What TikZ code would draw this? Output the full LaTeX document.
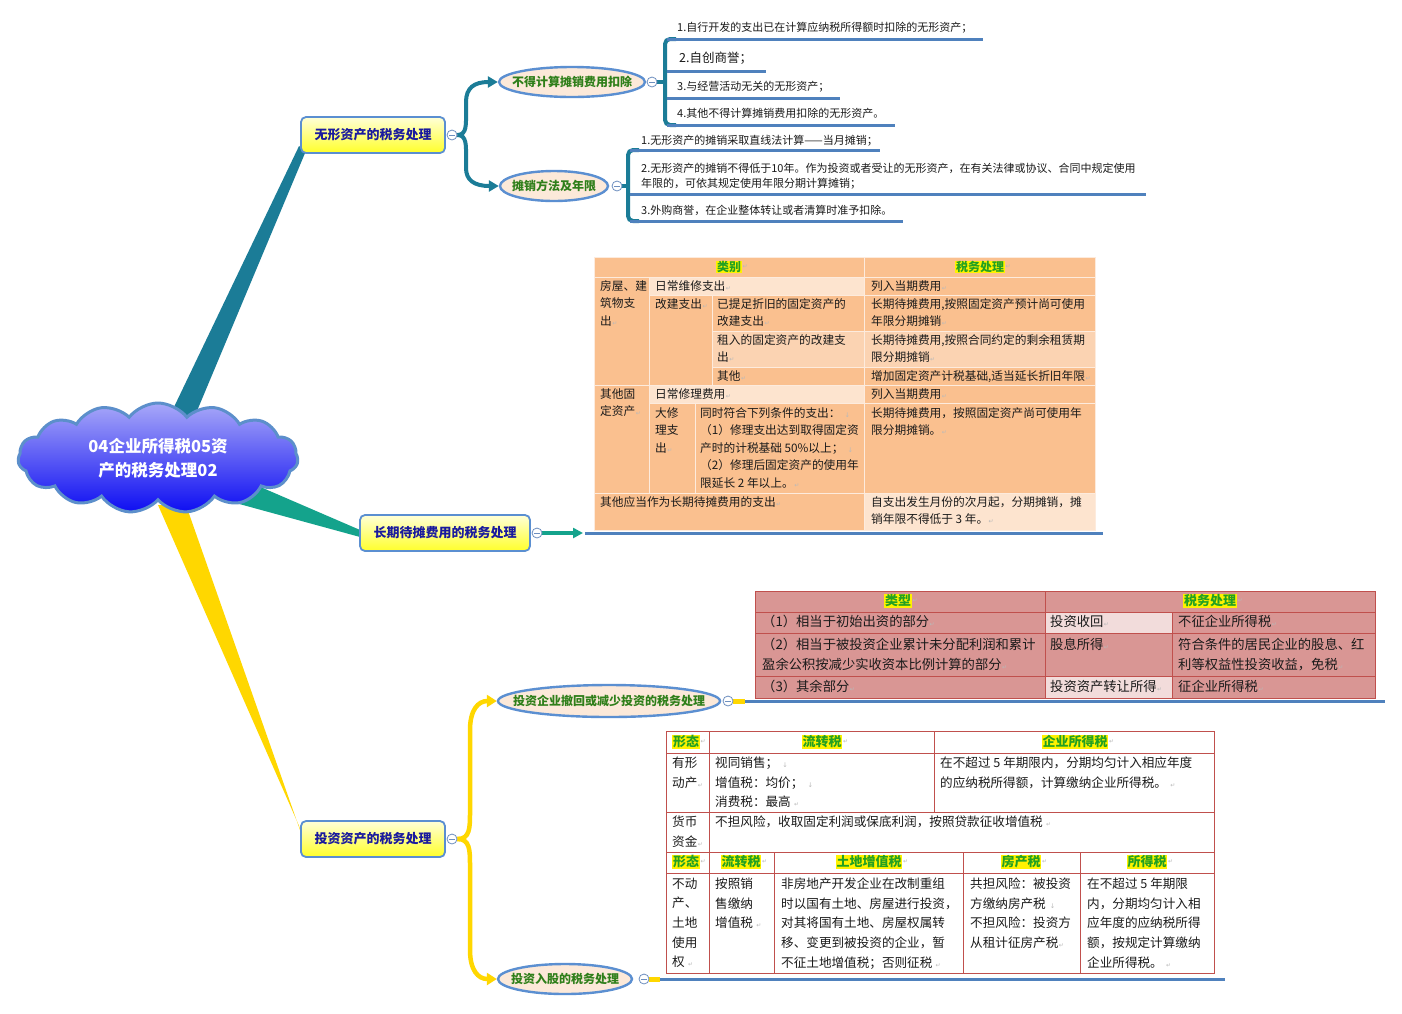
\documentclass[tikz,border=0pt]{standalone}
\usepackage{fontspec}
\setmainfont{Noto Sans CJK SC}
\newfontfamily\djv{DejaVu Sans}
\usetikzlibrary{shapes.symbols,shapes.geometric,arrows.meta,backgrounds,calc}
\definecolor{brA}{HTML}{1B7C97}
\definecolor{brB}{HTML}{14A38C}
\definecolor{brC}{HTML}{FFD700}
\definecolor{lnblue}{HTML}{4F81BD}
\definecolor{nodeedge}{HTML}{5B8FD1}
\definecolor{l1text}{HTML}{1A1A9E}
\definecolor{l2text}{HTML}{2F7F1A}
\definecolor{l2fill}{HTML}{FCE9D9}
\definecolor{t1base}{HTML}{FAC08F}
\definecolor{t1light}{HTML}{FDE4CF}
\definecolor{t1mid}{HTML}{FBD3B2}
\definecolor{t1line}{HTML}{FDEBDD}
\definecolor{t2base}{HTML}{D99694}
\definecolor{t2light}{HTML}{F2DCDB}
\definecolor{t2line}{HTML}{C0504D}
\definecolor{t3line}{HTML}{C0504D}
\definecolor{hdrg}{HTML}{22A022}
\definecolor{cloudtop}{HTML}{A8A8F8}
\definecolor{cloudbot}{HTML}{0D0DF2}
\definecolor{cloudedge}{HTML}{5C8FCB}
\definecolor{l1top}{HTML}{FFFFD8}
\definecolor{l1bot}{HTML}{FFFF2A}
\definecolor{colb}{HTML}{6E8FBF}
\definecolor{txt}{HTML}{1A1A1A}
\newcommand\pmk{{\djv\color{gray!55}\fontsize{6}{6}\selectfont\kern0.5pt ↵}}
\newcommand\lbk{{\djv\color{gray!55}\fontsize{6.5}{6}\selectfont\ \ ↓}}
\begin{document}
\begin{tikzpicture}[x=1pt,y=-1pt,
  l1/.style={rectangle, rounded corners=5, draw=nodeedge, line width=1.8, top color=l1top, bottom color=l1bot, minimum height=36, inner sep=2, text=l1text, font=\bfseries\fontsize{13}{15}\selectfont},
  l2/.style={ellipse, draw=nodeedge, line width=2.4, fill=l2fill, inner sep=0, minimum height=30},
  l2t/.style={inner sep=0, text=l2text, font=\bfseries\fontsize{12}{14}\selectfont},
  collapse/.style={circle, draw=colb, fill=white, line width=0.8, minimum size=10, inner sep=0,
     path picture={\draw[line width=0.8, draw=colb] ([xshift=2.2]path picture bounding box.west) -- ([xshift=-2.2]path picture bounding box.east);}},
  leaf/.style={anchor=west, inner sep=0, text=txt, font=\fontsize{11}{15}\selectfont},
  uline/.style={draw=lnblue, line width=3},
  brk/.style={draw=brA, line width=4, rounded corners=5},
  cell/.style={anchor=north west, inner sep=0, align=left, text=txt},
  c1/.style={cell, font=\fontsize{11.7}{17.6}\selectfont, yshift=6},
  c2/.style={cell, font=\fontsize{13.3}{20}\selectfont, yshift=6.8},
  c3/.style={cell, font=\fontsize{12.6}{19.7}\selectfont, yshift=6.5},
  hdr/.style={fill=yellow, text=hdrg, inner sep=0.6},
  mk/.style={font=\djv\fontsize{6}{6}\selectfont, text=gray!55, inner sep=0.5, anchor=west},
  arrA/.style={draw=brA, line width=4, -{Triangle[length=10,width=11]}},
  arrC/.style={draw=brC, line width=4.5, -{Triangle[length=10,width=12]}}
]
\useasboundingbox (0,0) rectangle (1402,1013);

% ---------- central cloud ----------
\node[cloud, cloud puffs=15, cloud puff arc=105, aspect=2.6, draw=cloudedge, line width=3,
      top color=cloudtop, bottom color=cloudbot, minimum width=280, minimum height=110, inner sep=0,
      text=white, font=\bfseries\fontsize{16.5}{24}\selectfont, align=center] (root) at (158,458)
      {04企业所得税05资\\产的税务处理02};

% ---------- level 1 nodes ----------
\node[l1, minimum width=144] (l1a) at (373,135) {无形资产的税务处理};
\node[l1, minimum width=170] (l1b) at (445,533) {长期待摊费用的税务处理};
\node[l1, minimum width=144] (l1c) at (373,839) {投资资产的税务处理};
\node[collapse] (c1a) at (452,135) {};
\node[collapse] (c1b) at (537,533) {};
\node[collapse] (c1c) at (452,839) {};

% ---------- level 2 nodes ----------
\node[l2, minimum width=146] (l2a) at (572,82) {};
\node[l2t] (l2at) at (l2a.center) {不得计算摊销费用扣除};
\node[l2, minimum width=108] (l2b) at (554,186) {};
\node[l2t] (l2bt) at (l2b.center) {摊销方法及年限};
\node[l2, minimum width=222, minimum height=32] (l2c) at (609,701) {};
\node[l2t] (l2ct) at (l2c.center) {投资企业撤回或减少投资的税务处理};
\node[l2, minimum width=134] (l2d) at (565,979) {};
\node[l2t] (l2dt) at (l2d.center) {投资入股的税务处理};
\node[collapse] (c2a) at (652,82) {};
\node[collapse] (c2b) at (617,186) {};
\node[collapse] (c2c) at (728,701) {};
\node[collapse] (c2d) at (644,979) {};

\begin{pgfonlayer}{background}
\fill[white] (0,0) rectangle (1402,1013);
% wedges
\fill[brA] ($(root)+(5,-28)$) -- ($(root)+(31,-28)$) -- ($(l1a.south west)+(5,-1)$) -- ($(l1a.south west)+(-1,-8)$) -- cycle;
\fill[brB] ($(root)+(77,18)$) -- ($(root)+(74,44)$) -- ($(l1b.west)+(1,4)$) -- ($(l1b.west)+(1,-3)$) -- cycle;
\fill[brC] ($(root)+(0,47)$) -- ($(root)+(28,47)$) -- ($(l1c.west)+(2,-3)$) -- ($(l1c.west)+(-1,-13)$) -- cycle;
% level1 -> level2
\draw[arrA] (c1a.east) .. controls (467,135) and (466,124) .. (466,112) -- (466,102) .. controls (466,88) and (474,82) .. (l2a.west);
\draw[arrA] (c1a.east) .. controls (467,135) and (466,146) .. (466,158) -- (466,168) .. controls (466,180) and (474,186) .. (l2b.west);
\draw[arrC] (c1c.east) .. controls (470,839) and (470,828) .. (470,812) -- (470,730) .. controls (470,710) and (478,701) .. (l2c.west);
\draw[arrC] (c1c.east) .. controls (470,839) and (470,850) .. (470,866) -- (470,950) .. controls (470,970) and (478,979) .. (l2d.west);
% brackets
\draw[draw=brA, line width=3.5] (c2a.east) -- (665,82);
\draw[brk] (676,39) -- (665,39) -- (665,125) -- (676,125);
\draw[draw=brA, line width=3.5] (c2b.east) -- (628,186);
\draw[brk] (639,150) -- (628,150) -- (628,221) -- (639,221);
% long-term branch
\draw[draw=brB, line width=3.5, -{Triangle[length=10,width=10]}] (c1b.east) -- (583,533);
\draw[uline] (585,533) -- (1103,533);
% investment branches
\draw[draw=brC, line width=5] (c2c.east) -- (745,701);
\draw[uline] (745,701) -- (1385,701);
\draw[draw=brC, line width=5] (c2d.east) -- (660,979);
\draw[uline] (660,979) -- (1225,979);
\end{pgfonlayer}

% ---------- leaves: 不得计算摊销费用扣除 ----------
\draw[uline] (667,39) -- (983,39);
\draw[uline] (667,71) -- (766,71);
\draw[uline] (667,98) -- (840,98);
\draw[uline] (667,125) -- (895,125);
\node[leaf] (la1) at (677,28) {1.自行开发的支出已在计算应纳税所得额时扣除的无形资产；};
\node[leaf, font=\fontsize{12.5}{15}\selectfont] (la2) at (679,58) {2.自创商誉；};
\node[leaf] (la3) at (677,87) {3.与经营活动无关的无形资产；};
\node[leaf] (la4) at (677,113) {4.其他不得计算摊销费用扣除的无形资产。};

% ---------- leaves: 摊销方法及年限 ----------
\draw[uline] (630,150) -- (880,150);
\draw[uline] (630,194) -- (1146,194);
\draw[uline] (630,221) -- (903,221);
\node[leaf] (lb1) at (641,141) {1.无形资产的摊销采取直线法计算——当月摊销；};
\node[cell, font=\fontsize{11}{15}\selectfont, yshift=5.5] (lb2) at (641,168) {2.无形资产的摊销不得低于10年。作为投资或者受让的无形资产，在有关法律或协议、合同中规定使用\\年限的，可依其规定使用年限分期计算摊销；};
\node[leaf] (lb3) at (641,210) {3.外购商誉，在企业整体转让或者清算时准予扣除。};

% ---------- table 1 ----------
\fill[t1base] (594,257) rectangle (1095,530);
\fill[t1light] (649,277) rectangle (864,295);
\fill[t1mid] (712,331) rectangle (1095,367);
\fill[t1light] (649,385) rectangle (864,403);
\fill[t1light] (864,493) rectangle (1095,530);
\draw[t1line, line width=1] (594,277) -- (1095,277) (649,295) -- (1095,295) (712,331) -- (1095,331)
  (712,367) -- (1095,367) (594,385) -- (1095,385) (649,403) -- (1095,403) (594,493) -- (1095,493)
  (649,277) -- (649,493) (712,295) -- (712,385) (695,403) -- (695,493) (864,257) -- (864,530);
\draw[t1line, line width=1] (594,257) rectangle (1095,530);
\node[hdr, font=\bfseries\fontsize{12}{13}\selectfont] (h1a) at (729,267) {类别};
\node[mk] (h1am) at (h1a.east) {↵};
\node[hdr, font=\bfseries\fontsize{12}{13}\selectfont] (h1b) at (980,267) {税务处理};
\node[mk] (h1bm) at (h1b.east) {↵};
\node[c1] (t1a1) at (600,286) {房屋、建\\筑物支\\出\pmk};
\node[c1] (t1a2) at (655,286) {日常维修支出\pmk};
\node[c1] (t1a4) at (871,286) {列入当期费用\pmk};
\node[c1] (t1b2) at (655,304) {改建支出\pmk};
\node[c1] (t1b3) at (717,304) {已提足折旧的固定资产的\\改建支出\pmk};
\node[c1] (t1b4) at (871,304) {长期待摊费用,按照固定资产预计尚可使用\\年限分期摊销\pmk};
\node[c1] (t1c3) at (717,340) {租入的固定资产的改建支\\出\pmk};
\node[c1] (t1c4) at (871,340) {长期待摊费用,按照合同约定的剩余租赁期\\限分期摊销\pmk};
\node[c1] (t1d3) at (717,376) {其他\pmk};
\node[c1] (t1d4) at (871,376) {增加固定资产计税基础,适当延长折旧年限\pmk};
\node[c1] (t1e1) at (600,394) {其他固\\定资产\pmk};
\node[c1] (t1e2) at (655,394) {日常修理费用\pmk};
\node[c1] (t1e4) at (871,394) {列入当期费用\pmk};
\node[c1] (t1f2) at (655,413) {大修\\理支\\出\pmk};
\node[c1] (t1f3) at (700,413) {同时符合下列条件的支出：\lbk\\（1）修理支出达到取得固定资\\产时的计税基础 50\%以上；\lbk\\（2）修理后固定资产的使用年\\限延长 2 年以上。\pmk};
\node[c1] (t1f4) at (871,413) {长期待摊费用，按照固定资产尚可使用年\\限分期摊销。\pmk};
\node[c1] (t1g1) at (600,502) {其他应当作为长期待摊费用的支出\pmk};
\node[c1] (t1g4) at (871,502) {自支出发生月份的次月起，分期摊销，摊\\销年限不得低于 3 年。\pmk};

% ---------- table 2 ----------
\fill[t2base] (755,591) rectangle (1375,698);
\fill[t2light] (1045,612) rectangle (1172,633);
\fill[t2light] (1045,676) rectangle (1172,698);
\draw[t2line, line width=1] (755,612) -- (1375,612) (755,633) -- (1375,633) (755,676) -- (1375,676)
  (1045,591) -- (1045,698) (1172,612) -- (1172,698);
\draw[t2line, line width=1] (755,591) rectangle (1375,698);
\node[hdr, font=\bfseries\fontsize{13}{14}\selectfont] (h2a) at (898,601) {类型};
\node[mk] (h2am) at (h2a.east) {↵};
\node[hdr, font=\bfseries\fontsize{13}{14}\selectfont] (h2b) at (1210,601) {税务处理};
\node[mk] (h2bm) at (h2b.east) {↵};
\node[c2] (t2a1) at (762,622) {（1）相当于初始出资的部分\pmk};
\node[c2] (t2a2) at (1050,622) {投资收回\pmk};
\node[c2] (t2a3) at (1178,622) {不征企业所得税\pmk};
\node[c2] (t2b1) at (762,645) {（2）相当于被投资企业累计未分配利润和累计\\盈余公积按减少实收资本比例计算的部分\pmk};
\node[c2] (t2b2) at (1050,645) {股息所得\pmk};
\node[c2] (t2b3) at (1178,645) {符合条件的居民企业的股息、红\\利等权益性投资收益，免税\pmk};
\node[c2] (t2c1) at (762,687) {（3）其余部分\pmk};
\node[c2] (t2c2) at (1050,687) {投资资产转让所得\pmk};
\node[c2] (t2c3) at (1178,687) {征企业所得税\pmk};

% ---------- table 3 ----------
\draw[t3line, line width=1] (666,731) rectangle (1214,973);
\draw[t3line, line width=1] (666,753) -- (1214,753) (666,812) -- (1214,812) (666,852) -- (1214,852)
  (666,873) -- (1214,873) (709,731) -- (709,973) (934,731) -- (934,812) (774,852) -- (774,973)
  (963,852) -- (963,973) (1080,852) -- (1080,973);
\node[hdr, font=\bfseries\fontsize{13}{15}\selectfont] (h3a) at (686,742) {形态};
\node[mk] (h3am) at (h3a.east) {↵};
\node[hdr, font=\bfseries\fontsize{13}{15}\selectfont] (h3b) at (822,742) {流转税};
\node[mk] (h3bm) at (h3b.east) {↵};
\node[hdr, font=\bfseries\fontsize{13}{15}\selectfont] (h3c) at (1075,742) {企业所得税};
\node[mk] (h3cm) at (h3c.east) {↵};
\node[hdr, font=\bfseries\fontsize{13}{15}\selectfont] (h3d) at (686,862) {形态};
\node[mk] (h3dm) at (h3d.east) {↵};
\node[hdr, font=\bfseries\fontsize{13}{15}\selectfont] (h3e) at (741,862) {流转税};
\node[mk] (h3em) at (h3e.east) {↵};
\node[hdr, font=\bfseries\fontsize{13}{15}\selectfont] (h3f) at (869,862) {土地增值税};
\node[mk] (h3fm) at (h3f.east) {↵};
\node[hdr, font=\bfseries\fontsize{13}{15}\selectfont] (h3g) at (1021,862) {房产税};
\node[mk] (h3gm) at (h3g.east) {↵};
\node[hdr, font=\bfseries\fontsize{13}{15}\selectfont] (h3h) at (1147,862) {所得税};
\node[mk] (h3hm) at (h3h.east) {↵};
\node[c3] (t3a1) at (672,763) {有形\\动产\pmk};
\node[c3] (t3a2) at (715,763) {视同销售；\lbk\\增值税：均价；\lbk\\消费税：最高 \pmk};
\node[c3] (t3a3) at (940,763) {在不超过 5 年期限内，分期均匀计入相应年度\\的应纳税所得额，计算缴纳企业所得税。 \pmk};
\node[c3] (t3b1) at (672,822) {货币\\资金\pmk};
\node[c3] (t3b2) at (715,822) {不担风险，收取固定利润或保底利润，按照贷款征收增值税 \pmk};
\node[c3] (t3c1) at (672,884) {不动\\产、\\土地\\使用\\权 \pmk};
\node[c3] (t3c2) at (715,884) {按照销\\售缴纳\\增值税 \pmk};
\node[c3] (t3c3) at (781,884) {非房地产开发企业在改制重组\\时以国有土地、房屋进行投资，\\对其将国有土地、房屋权属转\\移、变更到被投资的企业，暂\\不征土地增值税；否则征税 \pmk};
\node[c3] (t3c4) at (970,884) {共担风险：被投资\\方缴纳房产税\lbk\\不担风险：投资方\\从租计征房产税\pmk};
\node[c3] (t3c5) at (1087,884) {在不超过 5 年期限\\内，分期均匀计入相\\应年度的应纳税所得\\额，按规定计算缴纳\\企业所得税。 \pmk};
\end{tikzpicture}
\end{document}
